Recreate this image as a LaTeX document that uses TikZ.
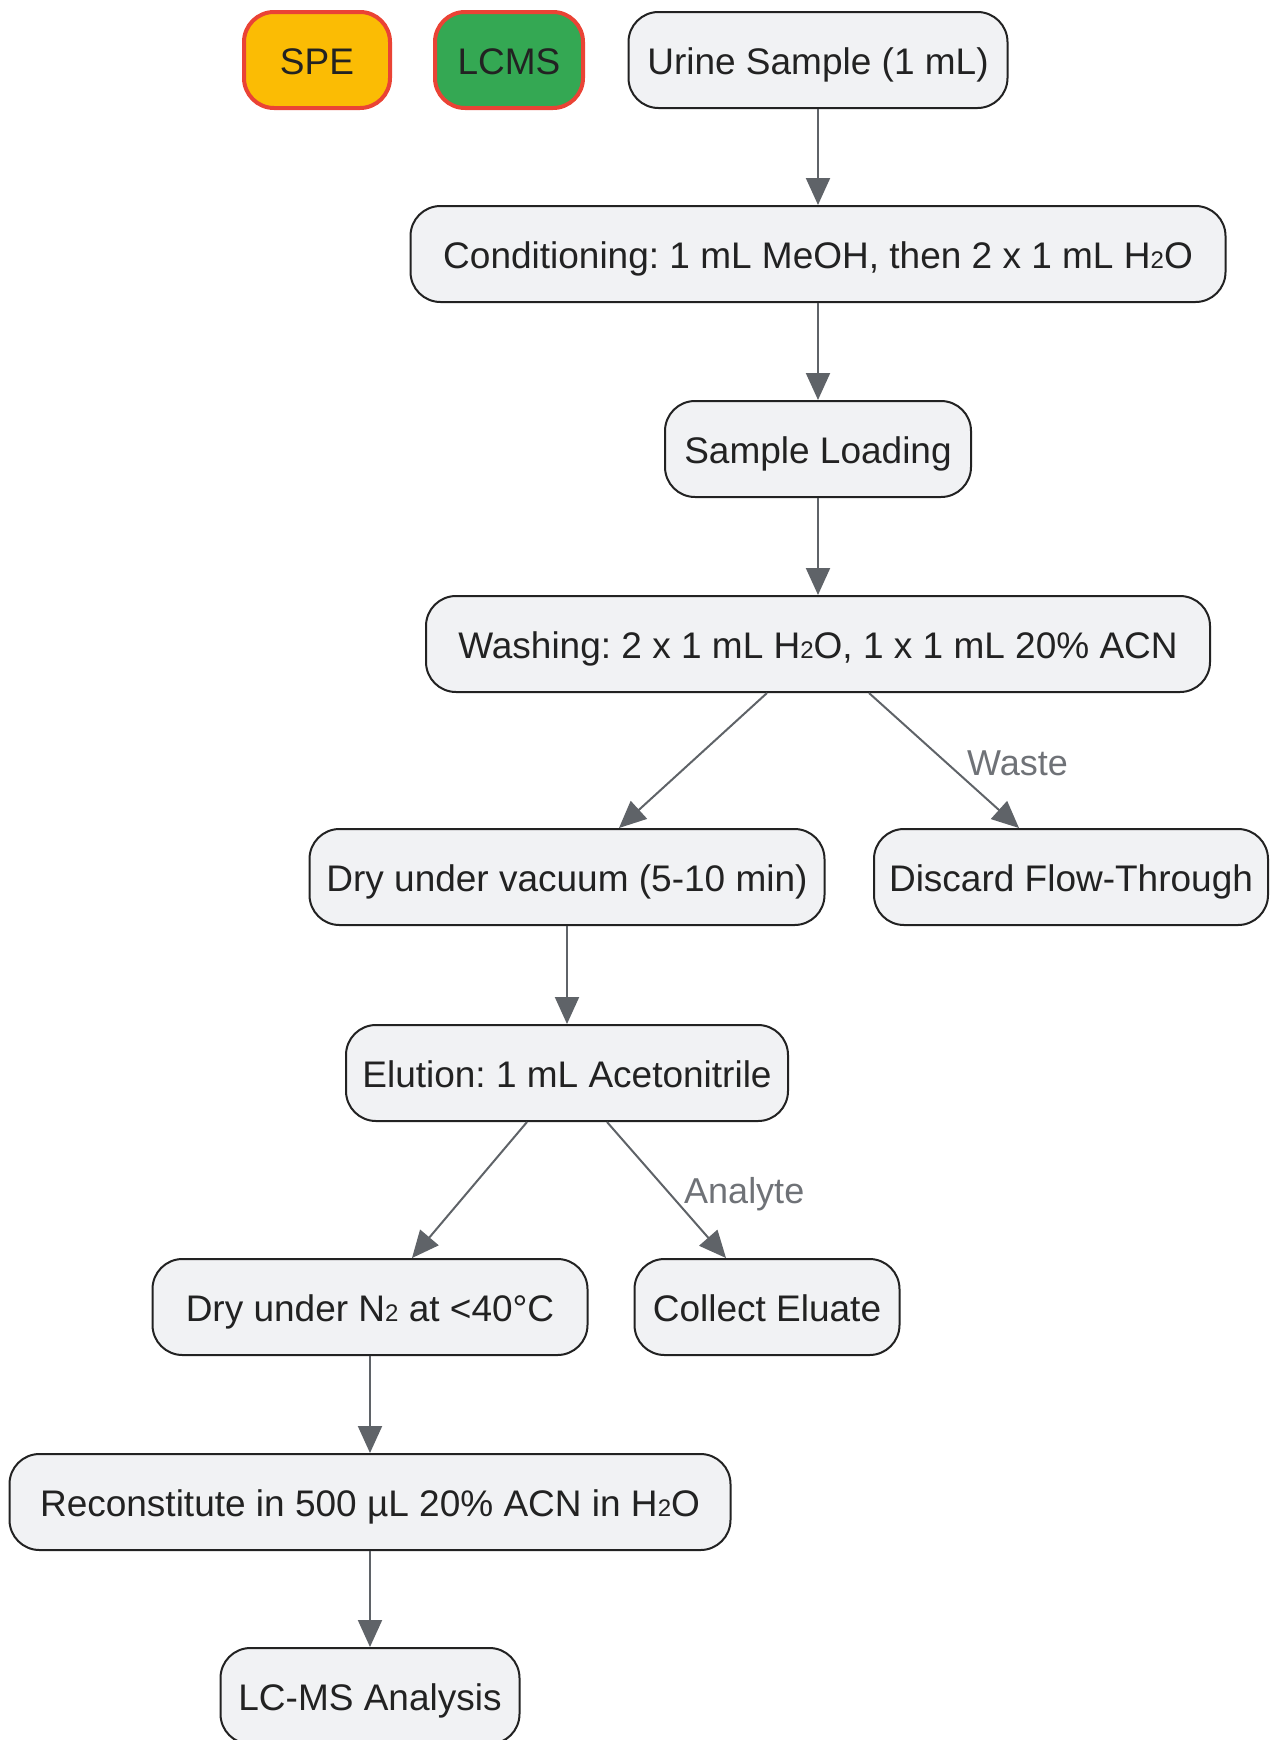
\documentclass[tikz,border=0pt]{standalone}
\usepackage{fontspec}
\setmainfont{Liberation Sans}
\usetikzlibrary{arrows.meta,calc}
\frenchspacing
\definecolor{boxfill}{HTML}{F1F2F4}
\definecolor{boxline}{HTML}{222222}
\definecolor{arrowcol}{HTML}{5F6368}
\definecolor{spefill}{HTML}{FBBC04}
\definecolor{lcmsfill}{HTML}{34A853}
\definecolor{redline}{HTML}{EA4335}
\newcommand{\subtwo}{{\fontsize{24}{24}\selectfont 2}}
\tikzset{
  stepbox/.style={draw=boxline, fill=boxfill, line width=2pt, rounded corners=30pt,
    minimum height=96pt, inner sep=0pt, text=boxline, text height=30pt, text depth=2pt,
    font=\fontsize{37}{44}\selectfont},
  tagbox/.style={stepbox, draw=redline, line width=4pt},
  flow/.style={draw=arrowcol, line width=2pt, -{Triangle[length=27pt,width=24pt]}},
  elabel/.style={text=arrowcol!90!white, font=\fontsize{36}{42}\selectfont, inner sep=0pt}
}
\begin{document}
\begin{tikzpicture}[x=1pt,y=-1pt]
\useasboundingbox (0,0) rectangle (1270,1740);
\node[tagbox, fill=spefill, minimum width=146pt] (spe) at (317,60) {SPE};
\node[tagbox, fill=lcmsfill, minimum width=148pt] (lcms) at (509,60) {LCMS};
\node[stepbox, minimum width=379pt] (urine) at (818,60) {Urine Sample (1 mL)};
\node[stepbox, minimum width=815pt] (cond) at (818,254) {Conditioning: 1 mL MeOH, then 2 x 1 mL H\subtwo O};
\node[stepbox, minimum width=306pt] (load) at (818,449) {Sample Loading};
\node[stepbox, minimum width=784pt] (wash) at (818,644) {Washing: 2 x 1 mL H\subtwo O, 1 x 1 mL 20\% ACN};
\node[stepbox, minimum width=515pt] (dryvac) at (567,877) {Dry under vacuum (5-10 min)};
\node[stepbox, minimum width=394pt] (discard) at (1071,877) {Discard Flow-Through};
\node[stepbox, minimum width=442pt] (elute) at (567,1073) {Elution: 1 mL Acetonitrile};
\node[stepbox, minimum width=435pt] (drynt) at (370,1307) {Dry under N\subtwo\ at <40°C};
\node[stepbox, minimum width=265pt] (collect) at (767,1307) {Collect Eluate};
\node[stepbox, minimum width=721pt] (recon) at (370,1502) {Reconstitute in 500 µL 20\% ACN in H\subtwo O};
\node[stepbox, minimum width=299pt] (lcmsan) at (370,1696) {LC-MS Analysis};

\draw[flow] (urine.south) -- (cond.north);
\draw[flow] (cond.south) -- (load.north);
\draw[flow] (load.south) -- (wash.north);
\draw[flow] ([xshift=-51pt]wash.south) -- ([xshift=52pt]dryvac.north);
\draw[flow] ([xshift=51pt]wash.south) -- ([xshift=-52pt]discard.north);
\node[elabel, anchor=west] (wastelbl) at (967,763) {Waste};
\draw[flow] (dryvac.south) -- (elute.north);
\draw[flow] ([xshift=-40pt]elute.south) -- ([xshift=42pt]drynt.north);
\draw[flow] ([xshift=40pt]elute.south) -- ([xshift=-41pt]collect.north);
\node[elabel, anchor=west] (analbl) at (684,1194) {Analyte};
\draw[flow] (drynt.south) -- (recon.north);
\draw[flow] (recon.south) -- (lcmsan.north);
\end{tikzpicture}
\end{document}
